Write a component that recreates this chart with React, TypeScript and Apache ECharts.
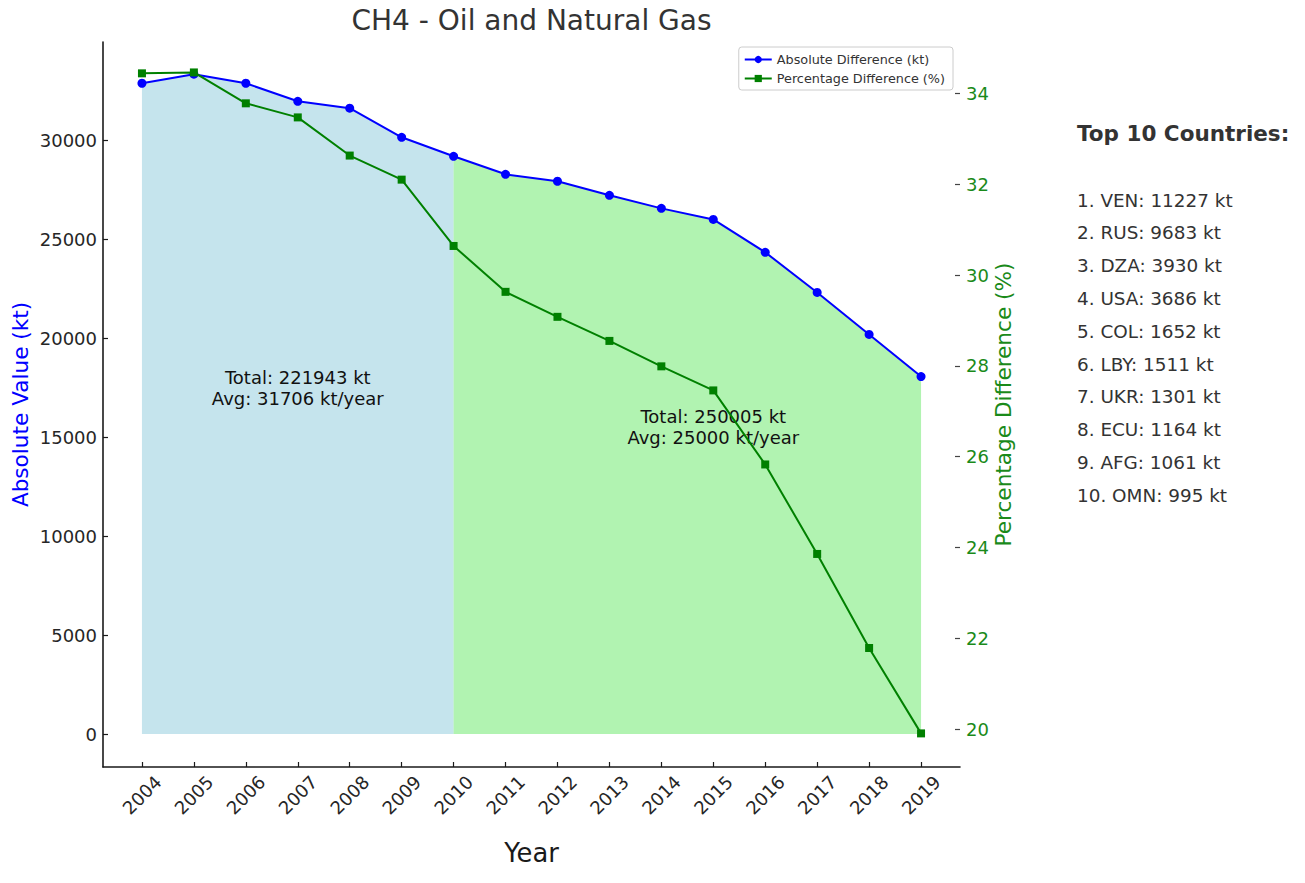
import React, { useEffect, useRef } from "react";
import * as echarts from "echarts";

const years = [2004, 2005, 2006, 2007, 2008, 2009, 2010, 2011, 2012, 2013, 2014, 2015, 2016, 2017, 2018, 2019];
const absoluteValues = [32880, 33340, 32880, 31970, 31620, 30150, 29190, 28280, 27930, 27220, 26560, 26000, 24340, 22310, 20190, 18060];
const percentValues = [34.44, 34.46, 33.78, 33.47, 32.63, 32.1, 30.64, 29.63, 29.08, 28.55, 27.99, 27.46, 25.83, 23.86, 21.79, 19.91];
const leftTicks = [0, 5000, 10000, 15000, 20000, 25000, 30000];
const rightTicks = [20, 22, 24, 26, 28, 30, 32, 34];
const splitYear = 2010;
const topCountries = [
  "1. VEN: 11227 kt",
  "2. RUS: 9683 kt",
  "3. DZA: 3930 kt",
  "4. USA: 3686 kt",
  "5. COL: 1652 kt",
  "6. LBY: 1511 kt",
  "7. UKR: 1301 kt",
  "8. ECU: 1164 kt",
  "9. AFG: 1061 kt",
  "10. OMN: 995 kt",
];
const annotations = [
  { x: 2007, y: 17500, text: "Total: 221943 kt\nAvg: 31706 kt/year" },
  { x: 2015, y: 15500, text: "Total: 250005 kt\nAvg: 25000 kt/year" },
];

const FONT = "DejaVu Sans";

export default function App() {
  const ref = useRef<HTMLDivElement>(null);
  useEffect(() => {
    if (!ref.current) return;
    const chart = echarts.init(ref.current, undefined, { renderer: "svg" });
    const absPairs = years.map((y, i) => [y, absoluteValues[i]]);
    const pctPairs = years.map((y, i) => [y, percentValues[i]]);
    const before = absPairs.filter((p) => p[0] <= splitYear);
    const after = absPairs.filter((p) => p[0] >= splitYear);

    const gridLeft = 103;
    const gridRight = 960;
    const gridTop = 42;
    const gridBottom = 767;
    const midY = (gridTop + gridBottom) / 2;

    const option: any = {
      animation: false,
      textStyle: { fontFamily: FONT },
      title: {
        text: "CH4 - Oil and Natural Gas",
        left: (gridLeft + gridRight) / 2,
        textAlign: "center",
        top: 6,
        padding: 0,
        textStyle: { fontFamily: FONT, fontSize: 28, fontWeight: "normal", color: "#333333" },
      },
      legend: {
        orient: "vertical",
        right: 1305 - 953,
        top: 47,
        padding: [6, 8, 5, 5],
        itemWidth: 27,
        itemHeight: 9,
        itemGap: 6,
        borderColor: "#cccccc",
        borderWidth: 1,
        borderRadius: 3,
        backgroundColor: "rgba(255,255,255,0.8)",
        textStyle: { fontFamily: FONT, fontSize: 12.8, color: "#333333" },
        data: ["Absolute Difference (kt)", "Percentage Difference (%)"],
      },
      grid: { left: gridLeft, right: 1305 - gridRight, top: gridTop, bottom: 883 - gridBottom, containLabel: false },
      xAxis: {
        type: "value",
        min: 2003.25,
        max: 2019.75,
        splitLine: { show: false },
        axisLine: { show: true, onZero: false, lineStyle: { color: "#1a1a1a", width: 1.6 } },
        axisTick: { show: true, inside: true, length: 5, customValues: years, lineStyle: { color: "#1a1a1a", width: 1.2 } },
        axisLabel: {
          customValues: years,
          rotate: 45,
          align: "center",
          verticalAlign: "middle",
          margin: 28,
          fontSize: 18,
          fontFamily: FONT,
          color: "#262626",
          formatter: (v: number) => String(v),
        },
      },
      yAxis: [
        {
          type: "value",
          position: "left",
          min: -1665,
          max: 34965,
          splitLine: { show: false },
          axisLine: { show: true, lineStyle: { color: "#1a1a1a", width: 1.6 } },
          axisTick: { show: true, inside: true, length: 5, customValues: leftTicks, lineStyle: { color: "#1a1a1a", width: 1.2 } },
          axisLabel: {
            customValues: leftTicks,
            margin: 6,
            fontSize: 18,
            fontFamily: FONT,
            color: "#262626",
            formatter: (v: number) => String(Math.round(v)),
          },
        },
        {
          type: "value",
          position: "right",
          min: 19.17,
          max: 35.13,
          splitLine: { show: false },
          axisLine: { show: false },
          axisTick: { show: true, inside: true, length: 5, customValues: rightTicks, lineStyle: { color: "#444444", width: 1.2 } },
          axisLabel: {
            customValues: rightTicks,
            margin: 6,
            fontSize: 18,
            fontFamily: FONT,
            color: "#1a8a1a",
            formatter: (v: number) => String(Math.round(v)),
          },
        },
      ],
      series: [
        {
          name: "fillBefore",
          type: "line",
          data: before,
          yAxisIndex: 0,
          symbol: "none",
          lineStyle: { width: 0 },
          areaStyle: { color: "rgba(173,216,230,0.7)", opacity: 1 },
          z: 1,
          silent: true,
        },
        {
          name: "fillAfter",
          type: "line",
          data: after,
          yAxisIndex: 0,
          symbol: "none",
          lineStyle: { width: 0 },
          areaStyle: { color: "rgba(144,238,144,0.7)", opacity: 1 },
          z: 1,
          silent: true,
        },
        {
          name: "Absolute Difference (kt)",
          type: "line",
          data: absPairs,
          yAxisIndex: 0,
          symbol: "circle",
          symbolSize: 9,
          color: "#0000ff",
          lineStyle: { color: "#0000ff", width: 2 },
          itemStyle: { color: "#0000ff" },
          z: 3,
        },
        {
          name: "Percentage Difference (%)",
          type: "line",
          data: pctPairs,
          yAxisIndex: 1,
          symbol: "rect",
          symbolSize: 8,
          color: "#008000",
          lineStyle: { color: "#008000", width: 2 },
          itemStyle: { color: "#008000" },
          z: 4,
        },
      ],
    };
    chart.setOption(option);

    const annoEls = annotations.map((a) => {
      const p = chart.convertToPixel({ xAxisIndex: 0, yAxisIndex: 0 }, [a.x, a.y]) as number[];
      return {
        type: "text",
        x: p[0],
        y: p[1],
        z: 2,
        style: {
          text: a.text,
          fontFamily: FONT,
          fontSize: 18,
          lineHeight: 21,
          fill: "#111111",
          textAlign: "center",
          textVerticalAlign: "middle",
        },
      };
    });

    const countryEls = topCountries.map((t, i) => ({
      type: "text",
      x: 1077,
      y: 200 + i * 32.8,
      style: { text: t, fontFamily: FONT, fontSize: 18.4, fill: "#333333", textAlign: "left", textVerticalAlign: "middle" },
    }));

    chart.setOption({
      graphic: [
        ...annoEls,
        {
          type: "text",
          x: 20,
          y: midY,
          rotation: Math.PI / 2,
          style: { text: "Absolute Value (kt)", fontFamily: FONT, fontSize: 21.6, fill: "#0000ff", textAlign: "center", textVerticalAlign: "middle" },
        },
        {
          type: "text",
          x: 1003,
          y: midY,
          rotation: Math.PI / 2,
          style: { text: "Percentage Difference (%)", fontFamily: FONT, fontSize: 21.6, fill: "#1a8a1a", textAlign: "center", textVerticalAlign: "middle" },
        },
        {
          type: "text",
          x: (gridLeft + gridRight) / 2,
          y: 853,
          style: { text: "Year", fontFamily: FONT, fontSize: 25.8, fill: "#1a1a1a", textAlign: "center", textVerticalAlign: "middle" },
        },
        {
          type: "text",
          x: 1077,
          y: 133,
          style: { text: "Top 10 Countries:", fontFamily: FONT, fontSize: 21.5, fontWeight: "bold", fill: "#333333", textAlign: "left", textVerticalAlign: "middle" },
        },
        ...countryEls,
      ],
    });

    return () => chart.dispose();
  }, []);
  return <div ref={ref} style={{ width: 1305, height: 883, position: "absolute", left: 0, top: 0 }} />;
}
